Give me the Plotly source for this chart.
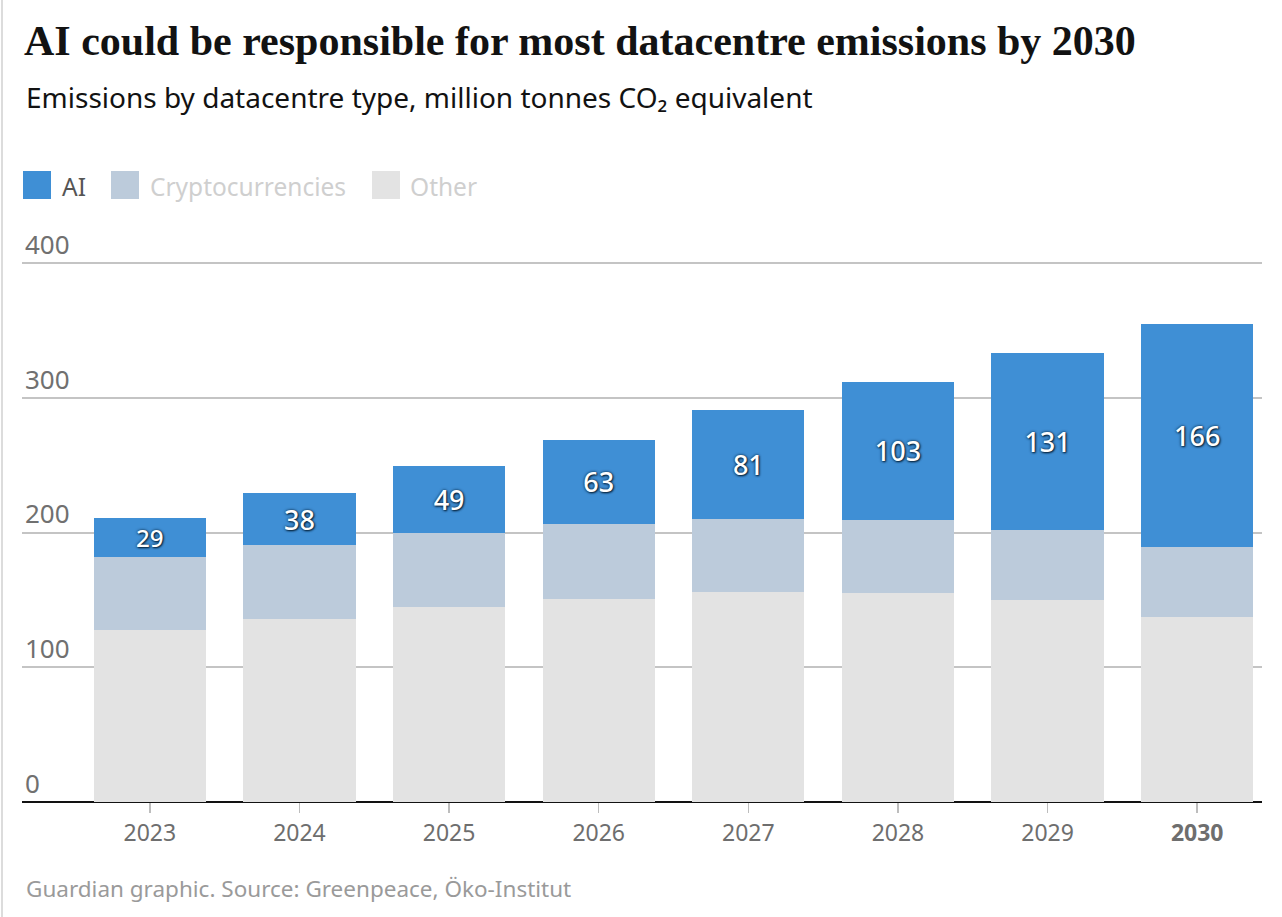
import plotly.graph_objects as go

years = ["2023", "2024", "2025", "2026", "2027", "2028", "2029", "2030"]
other = [128, 136, 145, 151, 156, 155, 150, 137]
crypto = [54, 55, 55, 55, 54, 54, 52, 52]
ai = [29, 38, 49, 63, 81, 103, 131, 166]
tick_labels = ["2023", "2024", "2025", "2026", "2027", "2028", "2029", "<b>2030</b>"]
y_ticks = [0, 100, 200, 300, 400]

C_AI = "#3f8fd5"
C_CRYPTO = "#bccbdb"
C_OTHER = "#e3e3e3"
SANS = "Noto Sans"

W, H = 1282, 917
L, R, T, B = 22, 20, 260, 115
PW, PH = W - L - R, H - T - B
Y_TOP = 400 * (H - B - T) / (H - B - 263)

def px(x):
    return (x - L) / PW

def py(y):
    return (H - B - y) / PH

fig = go.Figure()
fig.add_bar(x=years, y=other, name="Other", marker=dict(color=C_OTHER, line=dict(width=0)),
            hoverinfo="skip")
fig.add_bar(x=years, y=crypto, name="Cryptocurrencies", marker=dict(color=C_CRYPTO, line=dict(width=0)),
            hoverinfo="skip")
fig.add_bar(x=years, y=ai, name="AI", marker=dict(color=C_AI, line=dict(width=0)),
            text=[str(v) for v in ai], textposition="inside", insidetextanchor="middle",
            textangle=0,
            textfont=dict(family=SANS, size=27, color="white", weight=500,
                          shadow="0px 0px 3px #06223a, 1px 1px 2px #06223a"),
            hoverinfo="skip")

slot = 149.6
x_left = -0.5 - (75 - 22) / slot
x_right = 7.5 - (1272 - 1262) / slot

fig.update_layout(
    width=W, height=H,
    margin=dict(l=L, r=R, t=T, b=B, autoexpand=False),
    barmode="stack", bargap=0.25,
    paper_bgcolor="white", plot_bgcolor="white",
    showlegend=False,
    font=dict(family=SANS, color="#707070"),
    title=dict(text="AI could be responsible for most datacentre emissions by 2030",
               font=dict(family="Liberation Serif", size=42, color="#121212", weight="bold"),
               xref="container", x=24 / W, xanchor="left",
               yref="container", y=1 - 40 / H, yanchor="middle"),
    xaxis=dict(type="category", range=[x_left, x_right], tickmode="array",
               tickvals=years, ticktext=tick_labels,
               ticks="outside", ticklen=10, tickwidth=1.5, tickcolor="#bdbdbd",
               tickfont=dict(family=SANS, size=23, color="#6e6e6e"),
               showgrid=False, showline=False, zeroline=False, fixedrange=True),
    yaxis=dict(range=[0, Y_TOP], tickmode="array", tickvals=y_ticks,
               ticklabelposition="inside top", ticklabeloverflow="allow",
               tickfont=dict(family=SANS, size=26, color="#707070"),
               showgrid=True, gridcolor="#c4c4c4", gridwidth=2,
               zeroline=True, zerolinecolor="#121212", zerolinewidth=2,
               showline=False, ticks="", fixedrange=True),
)

shapes = []
annotations = []
# left page border
shapes.append(dict(type="line", xref="paper", yref="paper", x0=px(2), x1=px(2), y0=py(0), y1=py(H),
                   line=dict(color="#dcdcdc", width=2)))

annotations.append(dict(text="Emissions by datacentre type, million tonnes CO₂ equivalent",
                        xref="paper", yref="paper", x=px(24), y=py(97), xanchor="left", yanchor="middle",
                        showarrow=False, font=dict(family=SANS, size=28, color="#121212")))

legend_items = [("AI", C_AI, "#555555", 23, 60),
                ("Cryptocurrencies", C_CRYPTO, "#cfcfcf", 111, 148),
                ("Other", C_OTHER, "#cfcfcf", 372, 408)]
for name, col, tcol, sx, tx in legend_items:
    shapes.append(dict(type="rect", xref="paper", yref="paper", x0=px(sx), x1=px(sx + 28),
                       y0=py(199), y1=py(171), fillcolor=col, line=dict(width=0)))
    annotations.append(dict(text=name, xref="paper", yref="paper", x=px(tx), y=py(186),
                            xanchor="left", yanchor="middle", showarrow=False,
                            font=dict(family=SANS, size=24.5, color=tcol)))

annotations.append(dict(text="Guardian graphic. Source: Greenpeace, Öko-Institut",
                        xref="paper", yref="paper", x=px(24), y=py(888), xanchor="left", yanchor="middle",
                        showarrow=False, font=dict(family=SANS, size=22.5, color="#9a9a9a")))

fig.update_layout(shapes=shapes, annotations=annotations)
fig.write_html("out.html", config={"displayModeBar": False, "staticPlot": True},
               post_script="document.body.style.margin='0';document.body.style.overflow='hidden';")
